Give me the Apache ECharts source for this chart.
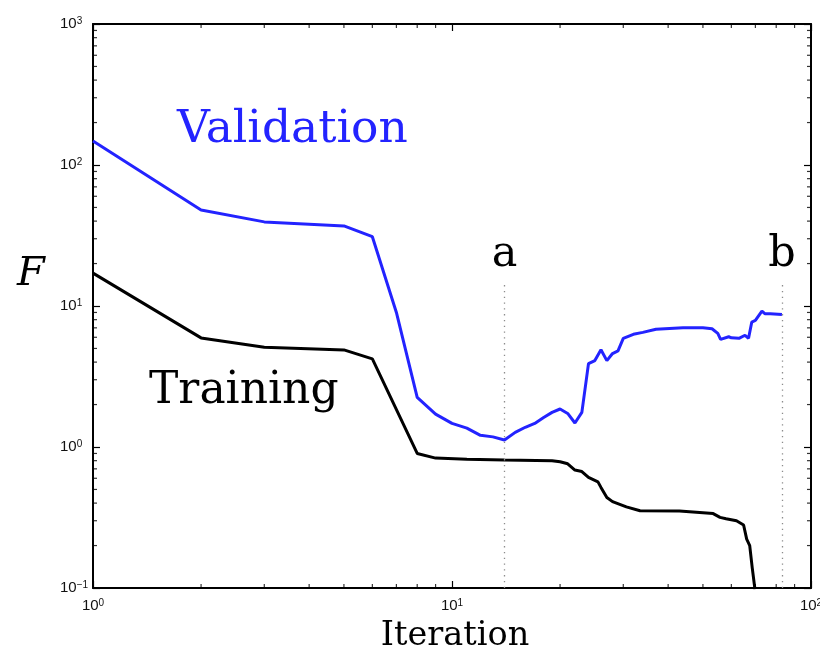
<!DOCTYPE html>
<html><head><meta charset="utf-8">
<script src="https://cdn.jsdelivr.net/npm/echarts@6/dist/echarts.min.js"></script>
<style>html,body{margin:0;padding:0;background:#fff}#c{width:820px;height:650px}</style>
</head><body><div id="c"></div>
<script>
// ---- data ----
const valIter = [1, 2, 3, 5, 6, 7, 8, 9, 10, 11, 12, 13, 14, 15, 16, 17, 18, 19, 20, 21, 22, 23, 24, 25, 26, 27, 28, 29, 30, 32, 34, 37, 44, 50, 53, 55, 56, 59, 60, 63, 65.5, 67, 68.4, 70, 73, 74.5, 77, 83];
const valF    = [148, 48, 39.5, 37, 31, 9.0, 2.25, 1.71, 1.47, 1.36, 1.21, 1.18, 1.12, 1.27, 1.38, 1.47, 1.62, 1.76, 1.86, 1.73, 1.48, 1.76, 3.9, 4.1, 4.9, 4.1, 4.6, 4.8, 5.9, 6.3, 6.5, 6.85, 7.0, 7.0, 6.9, 6.4, 5.8, 6.05, 5.95, 5.9, 6.2, 5.9, 7.7, 7.9, 9.2, 8.8, 8.8, 8.7];
const trainIter = [1, 2, 3, 5, 6, 8, 9, 11, 14, 19, 20, 21, 22, 23, 24, 25.5, 26, 27, 28, 30.6, 33.4, 43, 53.4, 55.8, 58, 62, 64.9, 66.2, 67.5, 68.6, 69.8];
const trainF    = [17.1, 5.94, 5.1, 4.88, 4.22, 0.90, 0.834, 0.82, 0.808, 0.80, 0.785, 0.76, 0.686, 0.67, 0.608, 0.566, 0.517, 0.438, 0.41, 0.376, 0.353, 0.352, 0.337, 0.317, 0.31, 0.30, 0.28, 0.222, 0.20, 0.139, 0.098];
const markIters = [14, 83];
const markNames = ['a', 'b'];
const markTop = 14.3;
const xRange = [1, 100];
const yRange = [0.1, 1000];
const seriesNames = ['Validation', 'Training'];
const xTitle = 'Iteration';
const yTitle = 'F';

// ---- helpers ----
function minorList(lo, hi) {
  const out = [];
  for (let d = lo; d < hi; d++) for (let m = 2; m <= 9; m++) out.push(+(m * Math.pow(10, d)).toPrecision(3));
  return out;
}
const minorX = minorList(Math.round(Math.log10(xRange[0])), Math.round(Math.log10(xRange[1])));
const minorY = minorList(Math.round(Math.log10(yRange[0])), Math.round(Math.log10(yRange[1])));
function expLabel(v) {
  const e = Math.round(Math.log10(v));
  return '{b|10}{s|' + (e < 0 ? '\u2212' + (-e) : e) + '}';
}
const rich = {
  b: { fontFamily: 'Liberation Sans', fontSize: 15, color: '#111', verticalAlign: 'bottom' },
  s: { fontFamily: 'Liberation Sans', fontSize: 10, color: '#111', verticalAlign: 'top' }
};
const tickStyle = { show: true, inside: true, length: 7, lineStyle: { color: '#000', width: 1.2 } };
const lineAx = { show: true, onZero: false, lineStyle: { color: '#000', width: 2 } };

function tickSeries(data, size, offset) {
  return {
    type: 'scatter', data: data, symbol: 'rect', symbolSize: size, symbolOffset: offset,
    itemStyle: { color: '#000' }, silent: true, clip: false, animation: false, z: 5
  };
}

const chart = echarts.init(document.getElementById('c'), null, { renderer: 'canvas' });
chart.setOption({
  backgroundColor: '#fff',
  animation: false,
  grid: { left: 93, right: 9, top: 24, bottom: 62, containLabel: false, outerBoundsMode: 'none' },
  xAxis: [
    { type: 'log', logBase: 10, min: xRange[0], max: xRange[1], position: 'bottom',
      axisLine: lineAx, axisTick: tickStyle, splitLine: { show: false },
      axisLabel: { formatter: expLabel, rich: rich, margin: 10, showMaxLabel: true, showMinLabel: true },
      name: xTitle, nameLocation: 'middle', nameGap: 31,
      nameTextStyle: { fontFamily: 'DejaVu Serif', fontSize: 33.5, color: '#000', padding: [0, 0, 0, 6] } },
    { type: 'log', logBase: 10, min: xRange[0], max: xRange[1], position: 'top',
      axisLine: lineAx, axisTick: tickStyle, axisLabel: { show: false }, splitLine: { show: false } }
  ],
  yAxis: [
    { type: 'log', logBase: 10, min: yRange[0], max: yRange[1], position: 'left',
      axisLine: lineAx, axisTick: tickStyle, splitLine: { show: false },
      axisLabel: { formatter: expLabel, rich: rich, margin: 33, align: 'left', showMaxLabel: true, showMinLabel: true } },
    { type: 'log', logBase: 10, min: yRange[0], max: yRange[1], position: 'right',
      axisLine: lineAx, axisTick: tickStyle, axisLabel: { show: false }, splitLine: { show: false } }
  ],
  series: [
    { name: seriesNames[0], type: 'line', data: valIter.map((x, i) => [x, valF[i]]),
      showSymbol: false, symbol: 'none', lineStyle: { color: '#2323ff', width: 3 }, z: 3 },
    { name: seriesNames[1], type: 'line', data: trainIter.map((x, i) => [x, trainF[i]]),
      showSymbol: false, symbol: 'none', lineStyle: { color: '#000', width: 3 }, z: 3, clip: true,
      markLine: {
        silent: true, symbol: 'none', animation: false,
        lineStyle: { type: [1.3, 4.5], color: '#8c8c8c', width: 1.3 },
        label: { show: true, position: 'end', formatter: '{b}', distance: 8,
                 fontFamily: 'DejaVu Serif', fontSize: 43, color: '#000' },
        data: markIters.map((x, i) => [{ coord: [x, yRange[0]], name: markNames[i] }, { coord: [x, markTop] }])
      } },
    tickSeries(minorX.map(v => [v, yRange[0]]), [1.2, 4], [0, -2]),
    tickSeries(minorX.map(v => [v, yRange[1]]), [1.2, 4], [0, 2]),
    tickSeries(minorY.map(v => [xRange[0], v]), [4, 1.2], [2, 0]),
    tickSeries(minorY.map(v => [xRange[1], v]), [4, 1.2], [-2, 0])
  ],
  graphic: [
    { type: 'text', left: 177, top: 107, silent: true,
      style: { text: seriesNames[0], font: '45.5px "DejaVu Serif"', fill: '#2323ff' } },
    { type: 'text', left: 149, top: 370, silent: true,
      style: { text: seriesNames[1], font: '44px "DejaVu Serif"', fill: '#000' } },
    { type: 'text', left: 17, top: 255, silent: true,
      style: { text: yTitle, font: 'italic 40px "DejaVu Serif"', fill: '#000' } }
  ]
});
</script>
</body></html>
